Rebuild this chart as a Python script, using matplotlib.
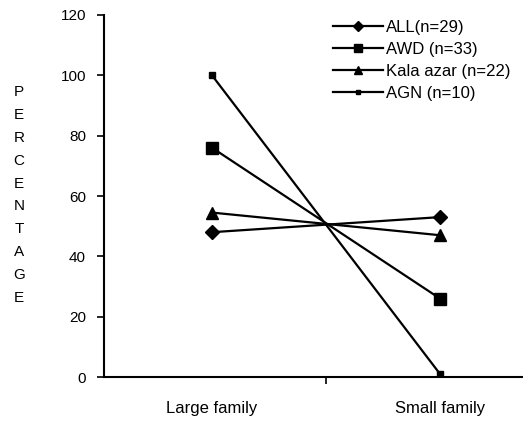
import numpy as np
import matplotlib.pyplot as plt

plt.rcParams['font.family'] = ['Liberation Sans', 'DejaVu Sans']

# data
groups = ["Large family", "Small family"]
all_vals = [48, 53]
awd_vals = [76, 26]
kala_vals = [54.5, 47]
agn_vals = [100, 1]

labels = ["ALL(n=29)", "AWD (n=33)", "Kala azar (n=22)", "AGN (n=10)"]

fig = plt.figure(figsize=(5.23, 4.23), dpi=100)
W, H = 523.0, 423.0
ax = fig.add_axes([104/W, (H-377)/H, (W-104)/W, (377-15)/H])

x = np.arange(len(groups))
ax.plot(x, all_vals, '-', color='black', lw=1.6, marker='D', ms=7, label=labels[0])
ax.plot(x, awd_vals, '-', color='black', lw=1.6, marker='s', ms=9, label=labels[1])
ax.plot(x, kala_vals, '-', color='black', lw=1.6, marker='^', ms=9, label=labels[2])
ax.plot(x, agn_vals, '-', color='black', lw=1.6, marker='s', ms=5, label=labels[3])

# category axis like the original: one tick between the groups
ax.set_xlim(-108/228.0, (W-212)/228.0)
ax.set_ylim(0, 120)
ax.set_yticks(range(0, 121, 20))
ax.set_xticks(x)
ax.set_xticklabels(groups, fontsize=12)
ax.set_xticks([0.5], minor=True)
ax.tick_params(axis='x', which='major', length=0, pad=17)
ax.tick_params(axis='x', which='minor', length=5, width=1.2, direction='out')
ax.tick_params(axis='y', length=5, width=1.2, direction='out', pad=8, labelsize=11)

for s in ['top', 'right']:
    ax.spines[s].set_visible(False)
ax.spines['left'].set_linewidth(1.5)
ax.spines['bottom'].set_linewidth(1.5)

fig.text(19/W, 1 - 195/H, "\n".join("PERCENTAGE"), ha='center', va='center',
         fontsize=11, linespacing=1.8)

leg = fig.legend(loc='upper left', bbox_to_anchor=(333/W, 1 - 20/H), frameon=False,
                 fontsize=12, handlelength=3.0, handletextpad=0.18, markerscale=0.7,
                 labelspacing=0.42, borderpad=0, borderaxespad=0)

fig.savefig("out.png", dpi=100)
